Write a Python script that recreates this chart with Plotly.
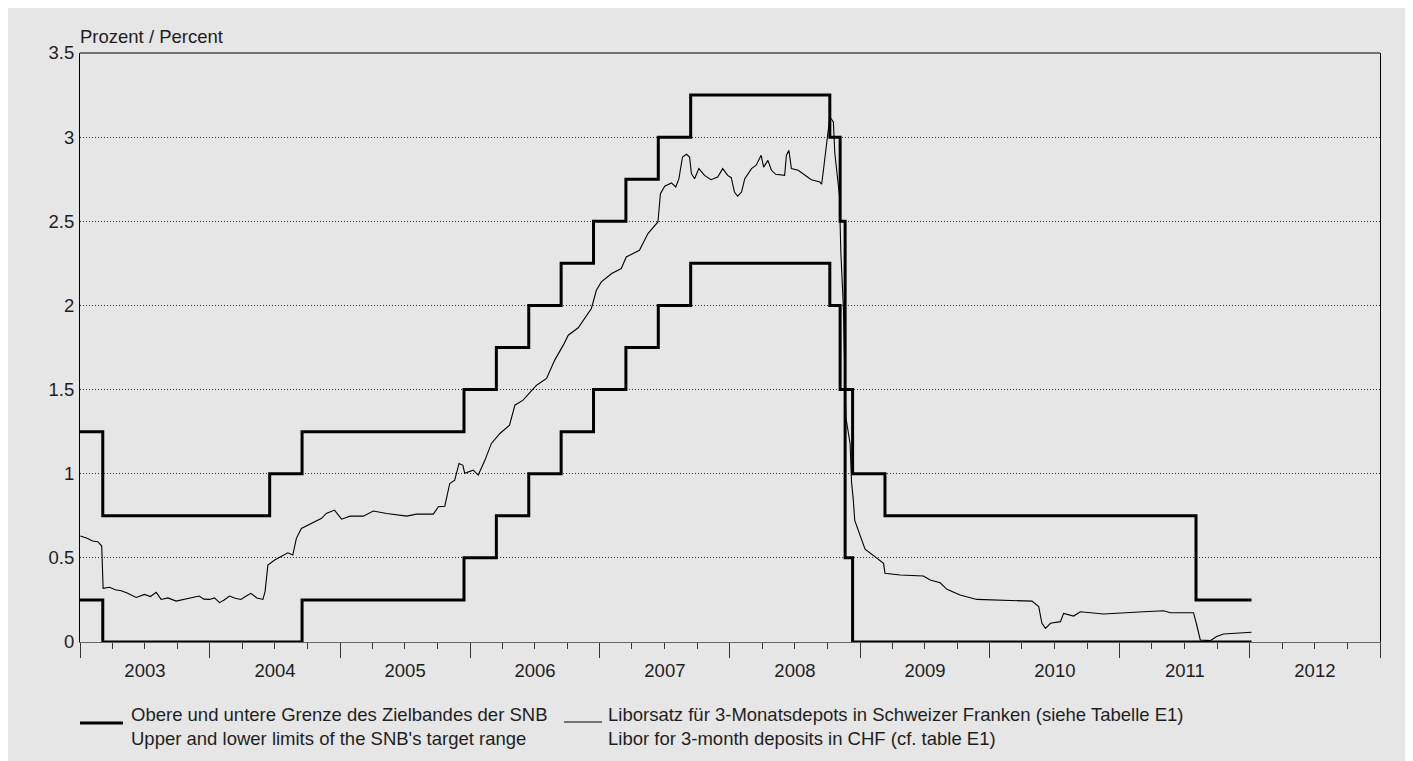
import plotly.graph_objects as go

# ---------------- data ----------------
snb_dates = ["2003-01-01", "2003-03-06", "2004-06-17", "2004-09-16", "2005-12-15",
             "2006-03-16", "2006-06-15", "2006-09-14", "2006-12-14", "2007-03-15",
             "2007-06-14", "2007-09-13", "2008-10-08", "2008-11-06", "2008-11-20",
             "2008-12-11", "2009-03-12", "2011-08-03", "2012-01-06"]
snb_upper = [1.25, 0.75, 1.00, 1.25, 1.50, 1.75, 2.00, 2.25, 2.50, 2.75,
             3.00, 3.25, 3.00, 2.50, 1.50, 1.00, 0.75, 0.25, 0.25]
snb_lower = [0.25, 0.00, 0.00, 0.25, 0.50, 0.75, 1.00, 1.25, 1.50, 1.75,
             2.00, 2.25, 2.00, 1.50, 0.50, 0.00, 0.00, 0.00, 0.00]

libor_dates = [
    "2003-01-02", "2003-01-12", "2003-01-23", "2003-02-05", "2003-02-20", "2003-03-03",
    "2003-03-07", "2003-03-25", "2003-04-10", "2003-04-27", "2003-05-15", "2003-06-08",
    "2003-07-01", "2003-07-18", "2003-08-03", "2003-08-17", "2003-09-05", "2003-09-28",
    "2003-10-15", "2003-11-08", "2003-12-02", "2003-12-15", "2003-12-31", "2004-01-14",
    "2004-01-28", "2004-02-10", "2004-02-25", "2004-03-12", "2004-03-28", "2004-04-10",
    "2004-04-25", "2004-05-12", "2004-05-29", "2004-06-04", "2004-06-12", "2004-07-01",
    "2004-07-19", "2004-08-07", "2004-08-21", "2004-08-31", "2004-09-14", "2004-10-03",
    "2004-10-26", "2004-11-10", "2004-11-23", "2004-12-16", "2005-01-05", "2005-01-29",
    "2005-03-07", "2005-04-04", "2005-05-12", "2005-07-07", "2005-08-04", "2005-09-20",
    "2005-10-04", "2005-10-22", "2005-11-05", "2005-11-19", "2005-12-01", "2005-12-12",
    "2005-12-17", "2006-01-10", "2006-01-24", "2006-02-12", "2006-03-02", "2006-03-26",
    "2006-04-22", "2006-05-07", "2006-05-30", "2006-07-07", "2006-08-04", "2006-08-27",
    "2006-09-20", "2006-10-04", "2006-11-01", "2006-11-19", "2006-12-08", "2006-12-22",
    "2007-01-05", "2007-02-03", "2007-03-02", "2007-03-16", "2007-04-22", "2007-05-16",
    "2007-06-13", "2007-06-20", "2007-07-02", "2007-07-21", "2007-08-02", "2007-08-11",
    "2007-08-21", "2007-09-01", "2007-09-10", "2007-09-15", "2007-09-24", "2007-10-06",
    "2007-10-22", "2007-11-09", "2007-11-28", "2007-12-12", "2007-12-26", "2008-01-05",
    "2008-01-14", "2008-01-23", "2008-02-03", "2008-02-12", "2008-03-02", "2008-03-15",
    "2008-03-29", "2008-04-05", "2008-04-17", "2008-04-27", "2008-05-09", "2008-06-03",
    "2008-06-08", "2008-06-15", "2008-06-22", "2008-07-11", "2008-07-30", "2008-08-17",
    "2008-09-10", "2008-09-15", "2008-09-20", "2008-10-01", "2008-10-08", "2008-10-18",
    "2008-10-22", "2008-11-04", "2008-11-08", "2008-11-15", "2008-11-22", "2008-12-04",
    "2008-12-08", "2008-12-13", "2008-12-17", "2009-01-15", "2009-02-17", "2009-03-08",
    "2009-03-12", "2009-04-24", "2009-06-28", "2009-07-17", "2009-08-14", "2009-09-02",
    "2009-10-09", "2009-11-25", "2010-04-29", "2010-05-18", "2010-05-27", "2010-06-06",
    "2010-06-20", "2010-07-18", "2010-07-27", "2010-08-24", "2010-09-12", "2010-11-16",
    "2011-03-09", "2011-05-04", "2011-05-23", "2011-07-27", "2011-08-05", "2011-08-15",
    "2011-09-12", "2011-09-30", "2011-10-19", "2012-01-01", "2012-01-06"]
libor_values = [
    0.63, 0.625, 0.615, 0.60, 0.596, 0.57,
    0.319, 0.325, 0.31, 0.305, 0.29, 0.265,
    0.283, 0.27, 0.295, 0.253, 0.262, 0.243,
    0.25, 0.259, 0.273, 0.255, 0.253, 0.262,
    0.234, 0.25, 0.273, 0.26, 0.253, 0.27,
    0.289, 0.262, 0.253, 0.299, 0.457, 0.487,
    0.507, 0.53, 0.517, 0.616, 0.675, 0.695,
    0.724, 0.735, 0.764, 0.784, 0.73, 0.748,
    0.748, 0.778, 0.764, 0.748, 0.76, 0.76,
    0.804, 0.807, 0.942, 0.962, 1.061, 1.05,
    1.002, 1.021, 0.992, 1.081, 1.18, 1.239,
    1.289, 1.407, 1.437, 1.526, 1.566, 1.675,
    1.764, 1.823, 1.867, 1.922, 1.982, 2.09,
    2.14, 2.19, 2.219, 2.288, 2.328, 2.427,
    2.496, 2.664, 2.708, 2.728, 2.704, 2.753,
    2.882, 2.898, 2.882, 2.783, 2.753, 2.813,
    2.773, 2.747, 2.763, 2.813, 2.773, 2.759,
    2.674, 2.649, 2.674, 2.753, 2.813, 2.833,
    2.892, 2.822, 2.862, 2.803, 2.779, 2.773,
    2.892, 2.922, 2.813, 2.803, 2.773, 2.747,
    2.733, 2.72, 2.803, 3.0, 3.12, 3.09,
    2.906, 2.655, 2.314, 1.996, 1.337, 1.178,
    0.95, 0.843, 0.723, 0.552, 0.497, 0.467,
    0.408, 0.398, 0.392, 0.368, 0.352, 0.313,
    0.279, 0.253, 0.243, 0.21, 0.111, 0.081,
    0.111, 0.121, 0.17, 0.154, 0.18, 0.166,
    0.18, 0.186, 0.174, 0.174, 0.101, 0.012,
    0.008, 0.032, 0.048, 0.055, 0.058]

year_ticks = ["2003", "2004", "2005", "2006", "2007", "2008", "2009", "2010", "2011", "2012"]
y_ticks = [0, 0.5, 1, 1.5, 2, 2.5, 3, 3.5]

legend_snb = "Obere und untere Grenze des Zielbandes der SNB<br>Upper and lower limits of the SNB's target range"
legend_libor = "Liborsatz für 3-Monatsdepots in Schweizer Franken (siehe Tabelle E1)<br>Libor for 3-month deposits in CHF (cf. table E1)"
y_title = "Prozent / Percent"

# ---------------- figure ----------------
OFF = 8  # page body margin
W, H = 1405, 753
ML, MR, MT, MB = 72, 33, 45, 119
PW, PH = W - ML - MR, H - MT - MB


def px(x):  # page pixel -> paper x
    return (x - OFF - ML) / PW


def py(y):  # page pixel -> paper y
    return (H - MB - (y - OFF)) / PH


FONT = "Liberation Sans, Arial, sans-serif"
TXT = "#1e1e1e"
BG = "#e6e6e6"
FS = 18.5

fig = go.Figure()
fig.add_trace(go.Scatter(x=snb_dates, y=snb_upper, mode="lines", line_shape="hv",
                         line=dict(color="black", width=3), showlegend=False,
                         hoverinfo="skip"))
fig.add_trace(go.Scatter(x=snb_dates, y=snb_lower, mode="lines", line_shape="hv",
                         line=dict(color="black", width=3), showlegend=False,
                         hoverinfo="skip"))
fig.add_trace(go.Scatter(x=libor_dates, y=libor_values, mode="lines",
                         line=dict(color="black", width=1.1), showlegend=False,
                         hoverinfo="skip"))

fig.update_layout(
    width=W, height=H,
    margin=dict(l=ML, r=MR, t=MT, b=MB, autoexpand=False),
    paper_bgcolor=BG, plot_bgcolor=BG,
    font=dict(family=FONT, size=FS, color=TXT),
    showlegend=False,
    xaxis=dict(
        type="date", range=["2003-01-01", "2013-01-01"],
        tickmode="linear", tick0=year_ticks[0] + "-01-01", dtick="M12",
        ticklabelmode="period", tickformat="%Y",
        ticks="outside", ticklen=15, tickwidth=1, tickcolor="#333",
        showgrid=False, zeroline=False,
        showline=True, linecolor="#666", linewidth=1,
        minor=dict(dtick="M3", tick0=year_ticks[0] + "-01-01", ticks="outside", ticklen=6,
                   tickwidth=1, tickcolor="#333", showgrid=False),
        tickfont=dict(size=FS, color=TXT),
        ticklabelstandoff=-3,
        fixedrange=True,
    ),
    yaxis=dict(
        range=[0, 3.5], tickmode="array", tickvals=y_ticks,
        ticktext=[f"{v:g}" for v in y_ticks],
        ticks="", showgrid=True, gridcolor="#333", gridwidth=1, griddash="1px,2px",
        zeroline=False, showline=True, linecolor="black", linewidth=1, mirror=True,
        tickfont=dict(size=FS, color=TXT),
        ticklabelstandoff=1,
        fixedrange=True,
    ),
    shapes=[
        dict(type="line", xref="paper", yref="paper", x0=0, x1=1, y0=1, y1=1,
             line=dict(color="black", width=1)),
        dict(type="line", xref="paper", yref="paper", x0=px(80), x1=px(123),
             y0=py(723), y1=py(723), line=dict(color="black", width=3)),
        dict(type="line", xref="paper", yref="paper", x0=px(564), x1=px(602),
             y0=py(722), y1=py(722), line=dict(color="black", width=1)),
    ],
    annotations=[
        dict(text=y_title, xref="paper", yref="paper", x=px(78), y=py(37),
             xanchor="left", yanchor="middle", showarrow=False,
             font=dict(size=FS, color=TXT)),
        dict(text=legend_snb, xref="paper", yref="paper", x=px(129), y=py(726),
             xanchor="left", yanchor="middle", align="left", showarrow=False,
             font=dict(size=FS, color=TXT)),
        dict(text=legend_libor, xref="paper", yref="paper", x=px(606), y=py(726),
             xanchor="left", yanchor="middle", align="left", showarrow=False,
             font=dict(size=FS, color=TXT)),
    ],
    hovermode=False,
)

fig.write_html("out.html", config={"displayModeBar": False, "staticPlot": True})
